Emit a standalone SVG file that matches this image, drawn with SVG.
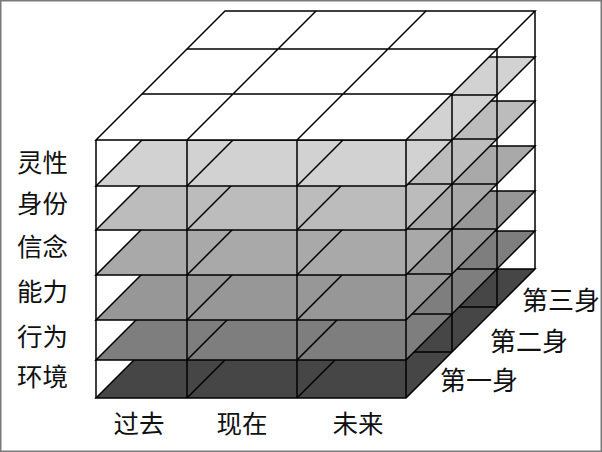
<svg xmlns="http://www.w3.org/2000/svg" width="602" height="452" viewBox="0 0 602 452">
<style>
.e{stroke:#000;stroke-width:1.5;fill:none;stroke-linejoin:miter}
.f{stroke:#000;stroke-width:1.5}
.lbl{font-family:"Noto Sans CJK SC","Noto Sans CJK TC",sans-serif;font-size:25.5px;fill:#111}
.lbl2{font-family:"Noto Sans CJK SC","Noto Sans CJK TC",sans-serif;font-size:26px;fill:#111}
</style>
<defs>
<g id="floorLines">
<path class="e" d="M142,-46H452M187,-91H497M187,0L316,-129M297,0L426,-129"/>
</g>
<polygon id="floorShape" points="96,0 406,0 535,-129 225,-129"/>
</defs>
<rect x="0" y="0" width="602" height="452" fill="#fff"/>
<rect x="0.75" y="0.75" width="600.5" height="450.5" fill="none" stroke="#7a7a7a" stroke-width="1.5"/>
<g id="cube">
<g id="layer-huanjing" transform="translate(0,398)">
<use href="#floorShape" class="f" fill="#464646"/>
<use href="#floorLines"/>
</g>
<g id="layer-xingwei" transform="translate(0,360)">
<use href="#floorShape" class="f" fill="#7e7e7e"/>
<use href="#floorLines"/>
</g>
<g id="layer-nengli" transform="translate(0,320)">
<use href="#floorShape" class="f" fill="#979797"/>
<use href="#floorLines"/>
</g>
<g id="layer-xinnian" transform="translate(0,275)">
<use href="#floorShape" class="f" fill="#a9a9a9"/>
<use href="#floorLines"/>
</g>
<g id="layer-shenfen" transform="translate(0,230)">
<use href="#floorShape" class="f" fill="#bcbcbc"/>
<use href="#floorLines"/>
</g>
<g id="layer-lingxing" transform="translate(0,186)">
<use href="#floorShape" class="f" fill="#d2d2d2"/>
<use href="#floorLines"/>
</g>
<g id="top-face" transform="translate(0,140)">
<use href="#floorShape" class="f" fill="#ffffff"/>
<use href="#floorLines"/>
</g>
<g id="verticals">
<path class="e" d="M96,140V398M187,140V398M297,140V398M406,140V398M452,94V352M497,49V307M535,11V269"/>
</g>
</g>
<g id="labels-left">
<text class="lbl" x="17" y="172">灵性</text>
<text class="lbl" x="17" y="213">身份</text>
<text class="lbl" x="17" y="256">信念</text>
<text class="lbl" x="17" y="301">能力</text>
<text class="lbl" x="17" y="346">行为</text>
<text class="lbl" x="17" y="386">环境</text>
</g>
<g id="labels-bottom">
<text class="lbl" x="139" y="433" text-anchor="middle">过去</text>
<text class="lbl" x="242" y="433" text-anchor="middle">现在</text>
<text class="lbl" x="358" y="433" text-anchor="middle">未来</text>
</g>
<g id="labels-right">
<text class="lbl2" x="440" y="390">第一身</text>
<text class="lbl2" x="490" y="351">第二身</text>
<text class="lbl2" x="522" y="310">第三身</text>
</g>
</svg>
